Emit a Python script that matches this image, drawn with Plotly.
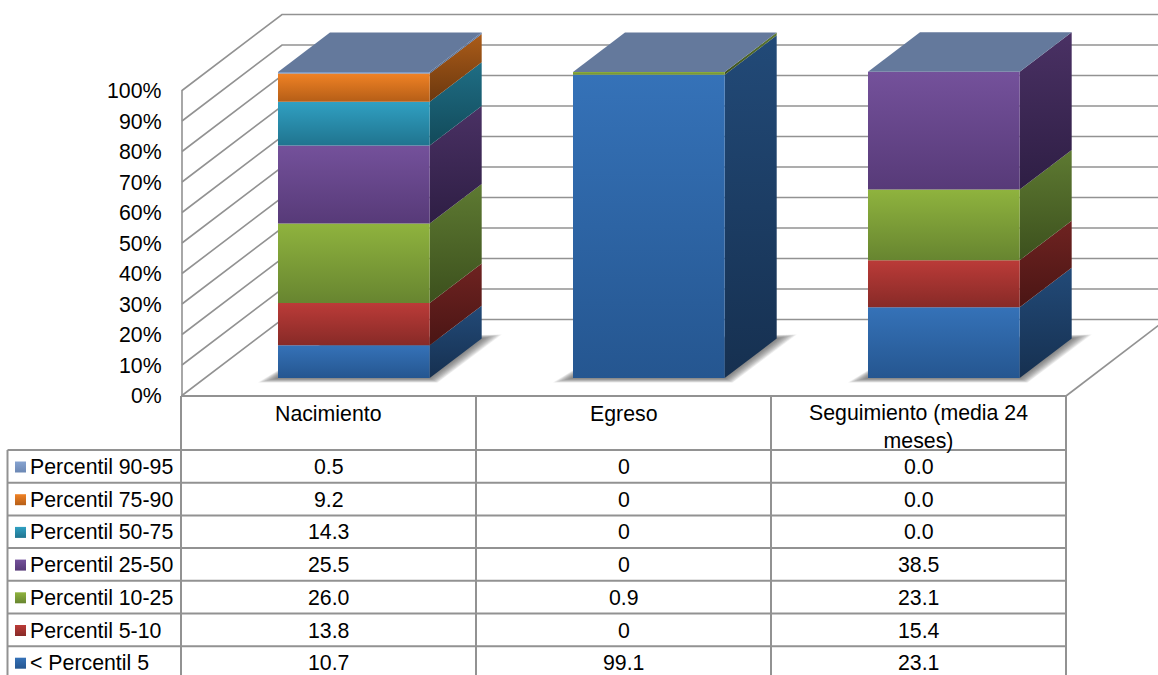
import plotly.graph_objects as go

categories = ["Nacimiento", "Egreso", "Seguimiento (media 24<br>meses)"]
series_names = ["< Percentil 5", "Percentil 5-10", "Percentil 10-25", "Percentil 25-50",
                "Percentil 50-75", "Percentil 75-90", "Percentil 90-95"]
p_lt5 = [10.7, 99.1, 23.1]
p_5_10 = [13.8, 0, 15.4]
p_10_25 = [26.0, 0.9, 23.1]
p_25_50 = [25.5, 0, 38.5]
p_50_75 = [14.3, 0, 0.0]
p_75_90 = [9.2, 0, 0.0]
p_90_95 = [0.5, 0, 0.0]
series_values = [p_lt5, p_5_10, p_10_25, p_25_50, p_50_75, p_75_90, p_90_95]
zero_labels = ["0.0", "0", "0.0"]
tick_labels = ["0%", "10%", "20%", "30%", "40%", "50%", "60%", "70%", "80%", "90%", "100%"]

front_colors = [("#3572b8", "#255690"), ("#bb3b38", "#872a27"), ("#8fb33e", "#678530"),
                ("#74519b", "#573a78"), ("#30a0c2", "#20748f"), ("#f08225", "#b55e17"),
                ("#86a3d0", "#6c88b4")]
side_colors = [("#224a78", "#163050"), ("#6f2321", "#4a1514"), ("#5e7a32", "#3c501d"),
               ("#4a3164", "#2e1e44"), ("#1f6e85", "#124a5a"), ("#ab5c19", "#6c380e"),
               ("#5f7aa5", "#4d658c")]
top_color = "#64799c"
line_c = "#929292"
FONT = "Liberation Sans, Arial, sans-serif"
FS = 21.3

# linear scales: x = table column units, y = percent
COL_W = 295.0
PX_PER_PCT = 3.06
X0_PX = 181.0
Y0_PX = 378.0
W, H = 1158, 675


def ux(px):
    return (px - X0_PX) / COL_W


def uy(py):
    return (Y0_PX - py) / PX_PER_PCT


BAR_LEFT = (278.0 - X0_PX) / COL_W
BAR_W = 151.7 / COL_W
DX = 52.0 / COL_W
DY = 39.5 / PX_PER_PCT

fig = go.Figure()


def lines(xs, ys, color=line_c, width=1.6):
    fig.add_trace(go.Scatter(x=xs, y=ys, mode="lines", line=dict(color=color, width=width),
                             hoverinfo="skip", showlegend=False))


def poly(xs, ys, grad=None, color=None, opacity=None):
    kw = dict(x=list(xs) + [xs[0]], y=list(ys) + [ys[0]], mode="lines", fill="toself",
              line=dict(width=0), hoverinfo="skip", showlegend=False)
    if grad:
        # first colour at the top of the polygon
        kw["fillgradient"] = dict(type="vertical",
                                  colorscale=[[0, grad[1]], [1, grad[0]]])
    else:
        kw["fillcolor"] = color
    if opacity is not None:
        kw["opacity"] = opacity
    fig.add_trace(go.Scatter(**kw))


# walls and floor
gx, gy = [], []
for i in range(11):
    fy = 395.5 - 30.5 * i
    by = 319.5 - 30.5 * i
    gx += [ux(182), ux(282), ux(1175), None]
    gy += [uy(fy), uy(by), uy(by), None]
lines(gx, gy)
lines([ux(182), ux(182)], [uy(90), uy(396)])
lines([ux(1066), ux(1170)], [uy(396), uy(316.5)])

# bars
for c in range(len(categories)):
    xl = c + BAR_LEFT
    xr = xl + BAR_W
    # soft contact shadow on the floor
    layers = 12
    for k in range(layers):
        grow = 1.0 - k / layers
        ex = grow * 20 / COL_W
        ey = grow * 4.5 / PX_PER_PCT
        poly([xl - ex, xr + ex * 0.4, xr + DX + ex, xl + DX],
             [-ey, -ey, DY + ey * 0.9, DY],
             color="rgba(80,80,80,0.085)")
    base = 0.0
    for s, vals in enumerate(series_values):
        v = vals[c]
        if v <= 0:
            continue
        top = base + v
        poly([xr, xr + DX, xr + DX, xr], [base, base + DY, top + DY, top], grad=side_colors[s])
        poly([xl, xr, xr, xl], [base, base, top, top], grad=front_colors[s])
        base = top
    poly([xl, xr, xr + DX, xl + DX], [base, base, base + DY, base + DY], color=top_color)

# data table
ROW_Y = [450 + 32.7 * i for i in range(8)]
COL_X = [181, 476, 771, 1066]
tx, ty = [], []
for x_ in COL_X:
    tx += [ux(x_), ux(x_), None]
    ty += [uy(396), uy(680), None]
tx += [ux(181), ux(1066), None]
ty += [uy(396), uy(396), None]
for y_ in ROW_Y:
    tx += [ux(7.5), ux(1066), None]
    ty += [uy(y_), uy(y_), None]
tx += [ux(7.5), ux(7.5), None]
ty += [uy(450), uy(680), None]
lines(tx, ty, width=2)

annotations = []


def label(px, py, text, anchor="center"):
    annotations.append(dict(x=ux(px), y=uy(py), text=text, showarrow=False, xanchor=anchor,
                            yanchor="middle", xref="x", yref="y",
                            font=dict(family=FONT, size=FS, color="#000000"), borderpad=0, borderwidth=0))


for i, t in enumerate(tick_labels):
    label(162, 396 - 30.5 * i, t, "right")

for c, name in enumerate(categories):
    label((COL_X[c] + COL_X[c + 1]) / 2, 426.5 if "<br>" in name else 414, name)

for r in range(7):
    s = 6 - r
    cy = ROW_Y[r] + 17
    label(30, cy, series_names[s], "left")
    poly([ux(15), ux(26), ux(26), ux(15)], [uy(cy - 5.5), uy(cy - 5.5), uy(cy + 5.5), uy(cy + 5.5)],
         grad=front_colors[s])
    for c in range(3):
        v = series_values[s][c]
        txt = f"{v:.1f}" if v else zero_labels[c]
        label((COL_X[c] + COL_X[c + 1]) / 2, cy, txt)

fig.update_layout(
    width=W, height=H, autosize=False,
    margin=dict(l=0, r=0, t=0, b=0, pad=0),
    paper_bgcolor="white", plot_bgcolor="white",
    showlegend=False,
    annotations=annotations,
    xaxis=dict(range=[ux(0), ux(W)], visible=False, fixedrange=True),
    yaxis=dict(range=[uy(H), uy(0)], visible=False, fixedrange=True),
)

fig.write_html("out.html", config={"displayModeBar": False},
               post_script="document.body.style.margin='0';")
